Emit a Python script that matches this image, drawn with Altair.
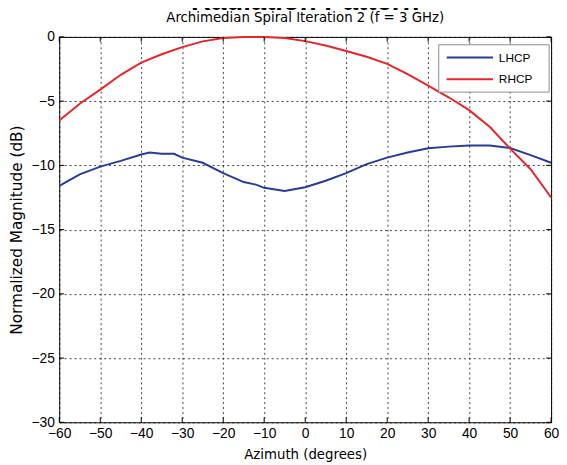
import altair as alt
import pandas as pd

# ---- data ----
rhcp_az = [-60, -55, -50, -45, -40, -35, -30, -25, -20, -15, -10, -5, 0, 5, 10, 15, 20, 25, 30, 35, 40, 45, 50, 55, 60]
rhcp_db = [-6.5, -5.2, -4.1, -2.95, -2.0, -1.35, -0.8, -0.35, -0.08, 0.0, 0.0, -0.08, -0.33, -0.67, -1.1, -1.55, -2.1, -2.9, -3.8, -4.7, -5.7, -7.0, -8.7, -10.3, -12.5]

lhcp_az = [-60, -55, -50, -45, -40, -38, -35, -32, -30, -25, -20, -15, -12, -10, -5, 0, 5, 10, 15, 20, 25, 30, 35, 40, 45, 50, 55, 60]
lhcp_db = [-11.6, -10.7, -10.1, -9.65, -9.15, -9.0, -9.1, -9.1, -9.4, -9.8, -10.6, -11.3, -11.5, -11.75, -12.0, -11.7, -11.2, -10.6, -9.9, -9.4, -9.0, -8.67, -8.54, -8.46, -8.46, -8.65, -9.2, -9.8]

x_ticks = [-60, -50, -40, -30, -20, -10, 0, 10, 20, 30, 40, 50, 60]
y_ticks = [0, -5, -10, -15, -20, -25, -30]

series_names = ["LHCP", "RHCP"]
series_colors = ["#283c96", "#e4262c"]

W, H = 499, 391
FONT = "Liberation Sans"
TFONT = "DejaVu Sans"

df = pd.concat([
    pd.DataFrame({"az": lhcp_az, "db": lhcp_db, "series": "LHCP"}),
    pd.DataFrame({"az": rhcp_az, "db": rhcp_db, "series": "RHCP"}),
])

xscale = alt.Scale(domain=[-60, 60], nice=False, zero=False)
yscale = alt.Scale(domain=[-30, 0], nice=False, zero=False)
cscale = alt.Scale(domain=series_names, range=series_colors)

lines = alt.Chart(df).mark_line(strokeWidth=2, interpolate="linear").encode(
    x=alt.X("az:Q", scale=xscale,
            axis=alt.Axis(values=x_ticks, title="Azimuth (degrees)", titleY=33,
                          titleBaseline="middle", labelPadding=4, labelFlush=False,
                          titleFontWeight="normal", titleFont=TFONT, titleFontSize=13.5)),
    y=alt.Y("db:Q", scale=yscale,
            axis=alt.Axis(values=y_ticks, title="Normalized Magnitude (dB)",
                          titleX=-43, titleY=H / 2, titleAngle=-90,
                          titleBaseline="middle", titleAlign="center", labelPadding=5,
                          labelFlush=False,
                          titleFontWeight="normal", titleFont=TFONT, titleFontSize=15.5)),
    color=alt.Color("series:N", scale=cscale, legend=None),
)

# inward ticks on all four sides (MATLAB style)
xt = pd.DataFrame({"t": x_ticks})
yt = pd.DataFrame({"t": y_ticks})
tick_style = dict(color="black", strokeWidth=1)
xb = alt.Chart(xt).mark_rule(**tick_style).encode(x=alt.X("t:Q", scale=xscale), y=alt.value(H), y2=alt.value(H - 5))
xtop = alt.Chart(xt).mark_rule(**tick_style).encode(x=alt.X("t:Q", scale=xscale), y=alt.value(0), y2=alt.value(5))
yl = alt.Chart(yt).mark_rule(**tick_style).encode(y=alt.Y("t:Q", scale=yscale), x=alt.value(0), x2=alt.value(5))
yr = alt.Chart(yt).mark_rule(**tick_style).encode(y=alt.Y("t:Q", scale=yscale), x=alt.value(W), x2=alt.value(W - 5))

# legend box (top-right, inside the plot)
leg = pd.DataFrame({"series": series_names})
leg_box = alt.Chart(pd.DataFrame({"k": [0]})).mark_rect(
    fill="white", stroke="#8c8c8c", strokeWidth=1
).encode(x=alt.value(385), x2=alt.value(497), y=alt.value(8), y2=alt.value(56))
leg_l1 = alt.Chart(leg.iloc[[0]]).mark_rule(strokeWidth=2).encode(
    x=alt.value(393), x2=alt.value(440), y=alt.value(21),
    color=alt.Color("series:N", scale=cscale, legend=None))
leg_l2 = alt.Chart(leg.iloc[[1]]).mark_rule(strokeWidth=2).encode(
    x=alt.value(393), x2=alt.value(440), y=alt.value(43),
    color=alt.Color("series:N", scale=cscale, legend=None))
leg_t1 = alt.Chart(leg.iloc[[0]]).mark_text(align="left", baseline="middle", font=FONT, fontSize=12, color="black").encode(
    x=alt.value(446), y=alt.value(21), text="series:N")
leg_t2 = alt.Chart(leg.iloc[[1]]).mark_text(align="left", baseline="middle", font=FONT, fontSize=12, color="black").encode(
    x=alt.value(446), y=alt.value(43), text="series:N")

chart = alt.layer(lines, xb, xtop, yl, yr, leg_box, leg_l1, leg_l2, leg_t1, leg_t2).properties(
    width=W, height=H,
    autosize="none",
    background="white",
    padding={"left": 52, "top": 26, "right": 8, "bottom": 40},
    title=alt.TitleParams(
        text="Radiation Pattern",
        subtitle="Archimedian Spiral Iteration 2 (f = 3 GHz)",
        font=FONT, fontSize=28, fontWeight="bold", color="black",
        subtitleFont=TFONT, subtitleFontSize=13.5, subtitleColor="black",
        subtitlePadding=-5, offset=6, anchor="middle",
    ),
).configure_view(
    stroke="black", strokeWidth=1
).configure_axis(
    domain=False, ticks=False,
    grid=True, gridColor="#000000", gridDash=[2, 3], gridWidth=1, gridOpacity=0.75,
    labelFont=FONT, labelFontSize=14, labelColor="black",
    titleColor="black",
)

chart.save("out.html", embed_options={"renderer": "svg", "actions": False})
